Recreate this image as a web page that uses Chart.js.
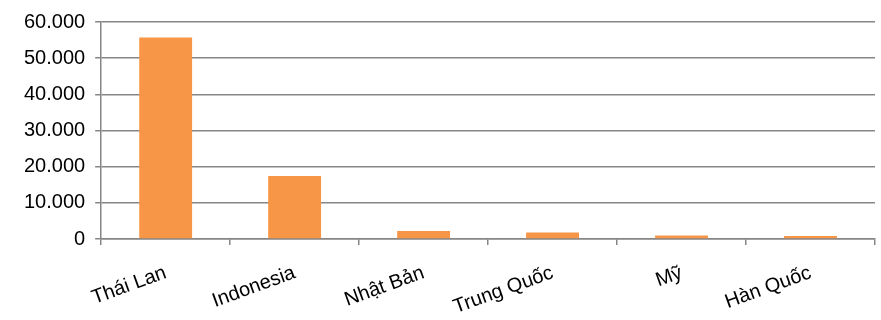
<!DOCTYPE html>
<html>
<head>
<meta charset="utf-8">
<script src="https://cdn.jsdelivr.net/npm/chart.js@4/dist/chart.umd.min.js"></script>
<style>
  html, body { margin: 0; padding: 0; background: #fff; }
  #wrap { width: 881px; height: 320px; }
</style>
</head>
<body>
<div id="wrap"><canvas id="chart"></canvas></div>
<script>
const categories = ['Thái Lan', 'Indonesia', 'Nhật Bản', 'Trung Quốc', 'Mỹ', 'Hàn Quốc'];
const values = [55700, 17400, 2200, 1800, 1000, 800];
const yTicks = [0, 10000, 20000, 30000, 40000, 50000, 60000];

const ctx = document.getElementById('chart').getContext('2d');
const chart = new Chart(ctx, {
  type: 'bar',
  data: {
    labels: categories,
    datasets: [{
      data: values,
      backgroundColor: '#F79646',
      barPercentage: 0.82,
      categoryPercentage: 0.5
    }]
  },
  options: {
    responsive: true,
    maintainAspectRatio: false,
    animation: false,
    layout: { padding: { left: 14, right: 6, top: 10, bottom: 0 } },
    plugins: { legend: { display: false }, tooltip: { enabled: false } },
    scales: {
      x: {
        afterFit: (axis) => { axis.height = 81; },
        grid: { display: true, drawOnChartArea: false, color: '#868686', lineWidth: 1.5, tickLength: 6, offset: true },
        border: { color: '#868686', width: 1.5 },
        ticks: {
          color: '#000',
          font: { family: 'Liberation Sans, Arial', size: 20 },
          minRotation: 20,
          maxRotation: 20,
          padding: 16
        }
      },
      y: {
        min: 0,
        max: 60000,
        afterBuildTicks: (axis) => { axis.ticks = yTicks.map(v => ({ value: v })); },
        grid: { color: '#868686', lineWidth: 1.5, tickLength: 6 },
        border: { color: '#868686', width: 1.5 },
        ticks: {
          color: '#000',
          font: { family: 'Liberation Sans, Arial', size: 20 },
          padding: 10,
          callback: (v) => v === 0 ? '0' : v.toLocaleString('de-DE')
        }
      }
    }
  }
});
</script>
</body>
</html>
